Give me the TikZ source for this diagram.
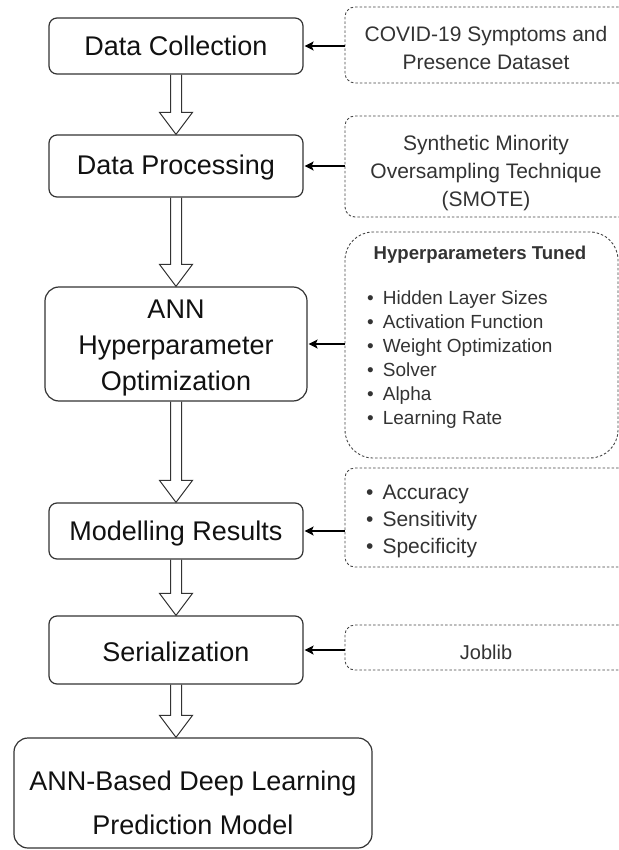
\documentclass[tikz,border=0pt]{standalone}
\usepackage{fontspec}
\setmainfont{Liberation Sans}
\usetikzlibrary{arrows.meta,calc,backgrounds}
\definecolor{edge}{HTML}{333333}
\definecolor{dashc}{HTML}{444444}
\definecolor{txt}{HTML}{111111}
\definecolor{subtxt}{HTML}{333333}
\newcommand\hollowarrow[2]{%
  \draw[hollow] let \p1=(#1.south), \p2=(#1.south |- #2.north) in
  (\x1-5.5pt,\y1) -- (\x1-5.5pt,\y2+22pt) -- (\x1-16.5pt,\y2+22pt) -- (\x2,\y2)
  -- (\x1+16.5pt,\y2+22pt) -- (\x1+5.5pt,\y2+22pt) -- (\x1+5.5pt,\y1);}
\begin{document}
\begin{tikzpicture}[x=1pt,y=-1pt,
  mainbox/.style={draw=edge, line width=1.2pt, rounded corners=8pt, inner sep=0pt},
  maintext/.style={inner sep=0pt, text=txt, font=\fontsize{27}{36}\selectfont, align=center},
  sidebox/.style={draw=dashc, line width=0.9pt, dash pattern=on 2.5pt off 2pt,
    rounded corners=10pt, inner sep=0pt},
  sidetext/.style={inner sep=0pt, text=subtxt, font=\fontsize{21}{28}\selectfont, align=center},
  plain/.style={inner sep=0pt, text=subtxt},
  conn/.style={draw=black, line width=1.5pt,
    -{Stealth[length=9pt,width=9pt,inset=2pt]}, shorten >=1pt},
  hollow/.style={draw=edge, line width=1pt, fill=white, line join=miter},
]
\useasboundingbox (0,0) rectangle (618,850);

% main flow boxes
\node[mainbox, minimum width=254pt, minimum height=56pt] (dc) at (176,46) {};
\node[maintext] (dct) at ($(dc.center)+(0,0)$) {Data Collection};
\node[mainbox, minimum width=254pt, minimum height=62pt] (dp) at (176,166) {};
\node[maintext] (dpt) at ($(dp.center)+(0,2)$) {Data Processing};
\node[mainbox, rounded corners=14pt, minimum width=262pt, minimum height=114pt] (ann) at (176,344) {};
\node[maintext] (annt) at ($(ann.center)+(0,4)$) {ANN\\Hyperparameter\\Optimization};
\node[mainbox, minimum width=254pt, minimum height=56pt] (mr) at (176,531) {};
\node[maintext] (mrt) at ($(mr.center)+(0,3)$) {Modelling Results};
\node[mainbox, minimum width=254pt, minimum height=68pt] (ser) at (176,650) {};
\node[maintext] (sert) at ($(ser.center)+(0,2)$) {Serialization};
\node[mainbox, rounded corners=14pt, minimum width=358pt, minimum height=110pt] (fin) at (193,793) {};
\node[maintext, font=\fontsize{27}{44}\selectfont] (fint) at ($(fin.center)+(0,10)$)
  {ANN-Based Deep Learning\\Prediction Model};

% side boxes
\node[sidebox, minimum width=288pt, minimum height=76pt] (covid) at (489,45) {};
\node[sidetext] (covidt) at (486,47.5) {COVID-19 Symptoms and\\Presence Dataset};
\node[sidebox, minimum width=288pt, minimum height=101pt] (smote) at (489,166.5) {};
\node[sidetext] (smotet) at (486,173) {Synthetic Minority\\Oversampling Technique\\(SMOTE)};
\node[sidebox, rounded corners=28pt, minimum width=273pt, minimum height=226pt] (hyp) at (481.5,345) {};
\node[plain, font=\fontsize{18.6}{22}\selectfont\bfseries] (hyptitle) at (480,255) {Hyperparameters Tuned};
\node[plain, anchor=west, font=\fontsize{19}{24}\selectfont] (hyplist) at (367,359.5)
  {\begin{tabular}{@{}l@{\hspace{9pt}}l@{}}
   \textbullet & Hidden Layer Sizes\\
   \textbullet & Activation Function\\
   \textbullet & Weight Optimization\\
   \textbullet & Solver\\
   \textbullet & Alpha\\
   \textbullet & Learning Rate
   \end{tabular}};
\node[sidebox, minimum width=288pt, minimum height=99pt] (met) at (489,517.5) {};
\node[plain, anchor=west, font=\fontsize{21}{27}\selectfont] (metlist) at (366,521)
  {\begin{tabular}{@{}l@{\hspace{9pt}}l@{}}
   \textbullet & Accuracy\\
   \textbullet & Sensitivity\\
   \textbullet & Specificity
   \end{tabular}};
\node[sidebox, minimum width=288pt, minimum height=45pt] (job) at (489,647.5) {};
\node[sidetext, font=\fontsize{20}{24}\selectfont] (jobt) at (486,652) {Joblib};

% connectors
\draw[conn] (covid.west |- dc.east) -- (dc.east);
\draw[conn] (smote.west |- dp.east) -- (dp.east);
\draw[conn] (hyp.west |- ann.east) -- (ann.east);
\draw[conn] (met.west |- mr.east) -- (mr.east);
\draw[conn] (job.west |- ser.east) -- (ser.east);

% hollow flow arrows
\begin{pgfonlayer}{background}
\hollowarrow{dc}{dp}
\hollowarrow{dp}{ann}
\hollowarrow{ann}{mr}
\hollowarrow{mr}{ser}
\hollowarrow{ser}{fin}
\end{pgfonlayer}
\end{tikzpicture}
\end{document}
